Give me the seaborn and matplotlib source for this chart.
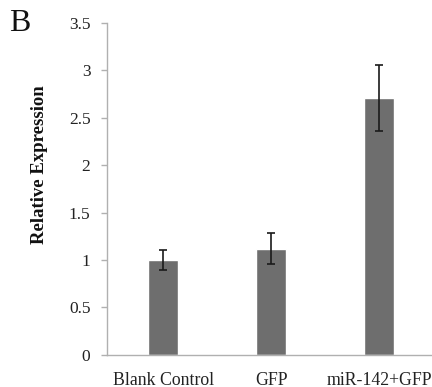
import matplotlib
matplotlib.use("Agg")
import matplotlib.pyplot as plt
import seaborn as sns
import pandas as pd

groups = ["Blank Control", "GFP", "miR-142+GFP"]
expression = [1.0, 1.12, 2.71]
errors = [0.11, 0.16, 0.35]

df = pd.DataFrame({"group": groups, "expression": expression, "err": errors})

sns.set_theme(style="white")
plt.rcParams["font.family"] = ["Liberation Serif", "DejaVu Serif"]

fig = plt.figure(figsize=(4.32, 3.87), dpi=100)
ax = fig.add_axes([0.248, 0.083, 0.755, 0.858])

sns.barplot(data=df, x="group", y="expression", color="#6e6e6e",
            width=0.28, saturation=1, errorbar=None, ax=ax)
ax.errorbar(range(len(groups)), df["expression"], yerr=df["err"], fmt="none",
            ecolor="#1a1a1a", elinewidth=1.2, capsize=3, capthick=1.2)

ax.set_ylim(0, 3.5)
ax.set_xlim(-0.52, 2.5)
ax.set_yticks([0, 0.5, 1, 1.5, 2, 2.5, 3, 3.5])
ax.set_yticklabels(["0", "0.5", "1", "1.5", "2", "2.5", "3", "3.5"])

for side in ["top", "right"]:
    ax.spines[side].set_visible(False)
for side in ["left", "bottom"]:
    ax.spines[side].set_color("#b0b0b0")
    ax.spines[side].set_linewidth(1.0)

ax.tick_params(axis="y", which="both", left=True, length=4, width=1,
               color="#b0b0b0", labelsize=12.5, labelcolor="#222222", pad=8)
ax.tick_params(axis="x", bottom=False, labelsize=12.8, labelcolor="#222222", pad=6)

ax.set_xlabel("")
ax.set_ylabel("Relative Expression", fontsize=13.5, fontweight="bold", color="#111111")
ax.yaxis.set_label_coords(-0.18, 0.572)

fig.text(0.022, 0.92, "B", fontsize=23, color="#111111")

fig.savefig("out.png", dpi=100)
